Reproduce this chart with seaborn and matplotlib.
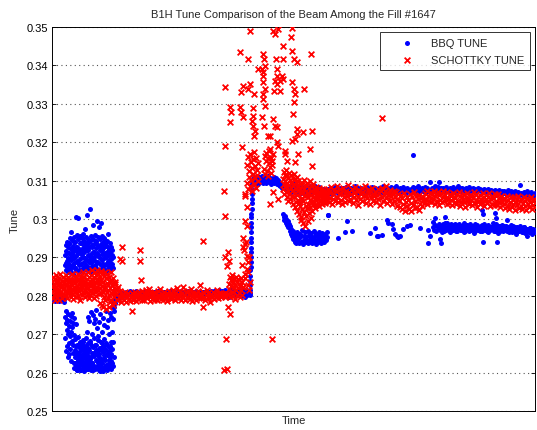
import numpy as np
import pandas as pd
import matplotlib
matplotlib.use("Agg")
import matplotlib.pyplot as plt
from matplotlib.ticker import FixedLocator, FuncFormatter
import seaborn as sns

# Tune readings in units of 1e-4; each phase spans a (start, end) time window
# and its samples are evenly spaced inside that window.

# ---------------- BBQ tune ----------------
bbq_inj_span = (0, 13)
bbq_inj = [2792, 2788, 2795, 2790, 2786, 2797, 2791, 2789, 2794, 2787,
           2799, 2790, 2793, 2788, 2796, 2791, 2785, 2794]

bbq_split_hi_span = (13, 61)
bbq_split_hi = [2905, 2880, 2932, 2868, 2917, 2890, 2941, 2875, 2926, 2898,
                2862, 2938, 2911, 2884, 2950, 2870, 2922, 2966, 2893, 2907,
                2877, 2945, 2915, 2858, 2930, 2899, 2952, 2886, 2919, 2872,
                2940, 3005, 2903, 2866, 2928, 2958, 2889, 3003, 2912, 2947,
                2879, 2921, 2955, 2895, 2864, 2937, 2908, 2883, 2950, 2916,
                2871, 2934, 2962, 2900, 2887, 2944, 2913, 2975, 2869, 2925,
                2896, 2953, 2881, 2919, 3010, 2938, 2874, 2906, 2948, 2890,
                2927, 2861, 2943, 3026, 2910, 2885, 2956, 2898, 2932, 2876,
                2949, 2915, 2985, 2892, 2867, 2936, 2959, 2903, 2880, 2924,
                2942, 2873, 2995, 2911, 2888, 2954, 2929, 2866, 2901, 2978,
                2919, 2947, 2884, 2990, 2935, 2870, 2957, 2909, 2893, 2939,
                2878, 2925, 2951, 2899, 2863, 2933, 2912, 2946, 2882, 2904,
                2930, 2868, 2944, 2915, 2891, 2960, 2876, 2921, 2907, 2938,
                2886, 2913, 2869, 2927, 2897, 2875, 2918, 2884, 2902, 2872]

bbq_split_hi_core_span = (14, 60)
bbq_split_hi_core = [2885, 2912, 2870, 2935, 2898, 2862, 2921, 2880, 2940, 2904,
                     2873, 2928, 2891, 2915, 2866, 2937, 2882, 2908, 2925, 2876,
                     2899, 2933, 2868, 2918, 2887, 2941, 2902, 2872, 2926, 2894,
                     2914, 2878, 2938, 2889, 2906, 2864, 2930, 2896, 2920, 2884,
                     2910, 2871, 2934, 2900, 2881, 2927, 2893, 2916, 2875, 2905]

bbq_split_lo_span = (13, 63)
bbq_split_lo = [2745, 2690, 2728, 2655, 2760, 2712, 2668, 2738, 2641, 2700,
                2752, 2676, 2722, 2648, 2735, 2695, 2661, 2748, 2706, 2630,
                2718, 2682, 2755, 2652, 2730, 2671, 2625, 2741, 2697, 2660,
                2612, 2688, 2645, 2726, 2620, 2672, 2608, 2650, 2693, 2634,
                2615, 2667, 2628, 2642, 2680, 2606, 2656, 2622, 2674, 2638,
                2610, 2661, 2630, 2685, 2617, 2648, 2604, 2670, 2626, 2655,
                2642, 2612, 2690, 2635, 2665, 2620, 2705, 2651, 2609, 2677,
                2745, 2628, 2660, 2735, 2615, 2682, 2758, 2640, 2612, 2700,
                2625, 2668, 2750, 2606, 2645, 2728, 2618, 2690, 2654, 2740,
                2610, 2672, 2632, 2762, 2648, 2615, 2715, 2660, 2627, 2695,
                2640, 2733, 2608, 2664, 2620, 2752, 2680, 2636, 2612, 2707,
                2655, 2625, 2742, 2670, 2605, 2688, 2645, 2725, 2618, 2660,
                2632, 2760, 2612, 2678, 2648, 2718, 2607, 2652, 2738, 2622,
                2666, 2612, 2700, 2640, 2755, 2618, 2680, 2630, 2745, 2662,
                2770, 2705, 2785, 2740, 2778, 2760, 2790, 2772, 2782, 2788]

bbq_split_lo_core_span = (22, 62)
bbq_split_lo_core = [2612, 2640, 2625, 2668, 2608, 2652, 2633, 2675, 2618, 2646,
                     2660, 2606, 2638, 2622, 2680, 2614, 2655, 2629, 2670, 2610,
                     2644, 2663, 2620, 2678, 2636, 2607, 2650, 2624, 2666, 2615,
                     2642, 2673, 2611, 2658, 2630, 2685, 2619, 2648, 2604, 2664,
                     2627, 2676, 2613, 2654, 2639, 2609, 2662, 2621, 2645, 2671,
                     2616, 2657, 2634, 2668, 2610, 2649, 2626, 2679, 2618, 2641]

bbq_flat_span = (63, 198)
bbq_flat = [2796, 2801, 2793, 2799, 2804, 2797, 2802, 2806, 2800, 2808,
            2805, 2810, 2803, 2809, 2807, 2812, 2804, 2808, 2811, 2806,
            2809, 2805, 2812, 2807, 2810, 2803, 2808, 2811, 2806, 2809,
            2804, 2810, 2807, 2812, 2805, 2809, 2806, 2811, 2803, 2808,
            2810, 2806, 2809, 2804, 2812, 2807, 2805, 2810, 2808, 2803,
            2809, 2811, 2806, 2808, 2804, 2810, 2807, 2812, 2805, 2809,
            2806, 2810, 2803, 2808, 2811, 2805, 2809, 2807, 2812, 2804,
            2808, 2805, 2810, 2806, 2809, 2812, 2804, 2807, 2811, 2806,
            2810, 2804, 2808, 2812, 2806, 2809, 2805, 2811, 2807, 2803,
            2807, 2811, 2805, 2809, 2813, 2806, 2810, 2804, 2808, 2812,
            2805, 2809, 2813, 2807, 2802, 2811, 2808, 2815, 2804, 2810,
            2812, 2806, 2800, 2814, 2808, 2803, 2811, 2798, 2809, 2815,
            2801, 2810, 2816, 2805, 2799, 2812, 2807, 2802, 2814, 2806,
            2800, 2811, 2804, 2815, 2798, 2809, 2803, 2812, 2806, 2801]

bbq_ramp_span = (198, 200)
bbq_ramp = [2806, 2815, 2829, 2838, 2852, 2866, 2874, 2889, 2902, 2913,
            2925, 2940, 2951, 2966, 2978, 2990, 3004, 3013, 3027, 3041,
            3052, 3066, 3079, 3090]

bbq_top_span = (200, 233)
bbq_top = [3098, 3104, 3093, 3108, 3101, 3095, 3110, 3099, 3106, 3092,
           3103, 3109, 3096, 3105, 3100, 3112, 3094, 3107, 3102, 3097,
           3108, 3093, 3104, 3099, 3111, 3096, 3102, 3106, 3091, 3100,
           3105, 3097, 3109, 3094, 3103, 3098, 3107, 3092, 3101, 3096,
           3088, 3094, 3085, 3091, 3082, 3089, 3086, 3080, 3087, 3083]

bbq_mid_span = (233, 275)
bbq_mid = [3085, 3078, 3088, 3072, 3081, 3069, 3084, 3075, 3090, 3070,
           3080, 3066, 3086, 3073, 3079, 3068, 3083, 3071, 3077, 3064,
           3082, 3074, 3069, 3087, 3076, 3067, 3080, 3072, 3085, 3070,
           3078, 3065, 3083, 3073, 3068, 3079, 3071, 3076, 3066, 3074]

bbq_hook_span = (231, 276)
bbq_hook = [3012, 3005, 2998, 3008, 2990, 3001, 2985, 2994,
            2978, 2988, 2970, 2982, 2962, 2975, 2955, 2968,
            2948, 2960, 2941, 2953, 2937, 2966, 2945, 2958, 2938, 2950,
            2962, 2940, 2955, 2972, 2943, 2936, 2957, 2948, 2965, 2939,
            2952, 2944, 2968, 2937, 2959, 2947, 2941, 2963, 2954, 2938,
            2949, 2970, 2942, 2956, 2936, 2961, 2946, 2953, 2940, 2967,
            2944, 2958, 2937, 2951, 2963, 2942, 2955, 2939, 2948, 2960,
            2945, 2966, 2952, 3010]

bbq_end_hi_span = (275, 483)
bbq_end_hi = [3072, 3078, 3068, 3081, 3075, 3066, 3079, 3070, 3084, 3073,
              3077, 3069, 3082, 3074, 3067, 3080, 3071, 3076, 3083, 3068,
              3075, 3079, 3066, 3081, 3072, 3077, 3070, 3085, 3073, 3068,
              3080, 3074, 3069, 3082, 3076, 3071, 3079, 3067, 3083, 3075,
              3070, 3078, 3073, 3084, 3068, 3076, 3081, 3072, 3077, 3069,
              3082, 3074, 3079, 3071, 3086, 3075, 3070, 3080, 3073, 3078,
              3069, 3083, 3076, 3072, 3080, 3074, 3085, 3071, 3078, 3075,
              3081, 3070, 3077, 3084, 3073, 3079, 3068, 3082, 3076, 3072,
              3078, 3074, 3083, 3071, 3080, 3076, 3069, 3085, 3073, 3079,
              3075, 3082, 3072, 3078, 3084, 3070, 3080, 3076, 3074, 3096,
              3081, 3073, 3079, 3085, 3071, 3077, 3083, 3096, 3075, 3080,
              3074, 3082, 3078, 3070, 3084, 3076, 3079, 3073, 3081, 3075,
              3077, 3083, 3071, 3079, 3074, 3086, 3076, 3080, 3072, 3082,
              3075, 3079, 3073, 3081, 3077, 3070, 3083, 3076, 3078, 3072,
              3080, 3074, 3077, 3071, 3082, 3075, 3079, 3073, 3076, 3070,
              3078, 3072, 3075, 3069, 3077, 3073, 3070, 3076, 3068, 3074,
              3071, 3075, 3066, 3073, 3069, 3076, 3064, 3072, 3068, 3074,
              3067, 3071, 3063, 3075, 3069, 3066, 3072, 3062, 3070, 3065,
              3073, 3068, 3064, 3071, 3066, 3089, 3069, 3062, 3070, 3065,
              3067, 3072, 3061, 3068, 3064, 3070, 3063, 3066, 3060, 3069]

bbq_end_lo_span = (381, 483)
bbq_end_lo = [2978, 2972, 2985, 2969, 2981, 2975, 2988, 2971, 2979, 2983,
              2974, 2986, 2970, 2980, 2976, 2990, 2973, 2982, 2968, 2977,
              2984, 2971, 2979, 2987, 2974, 2981, 2969, 2985, 2976, 2980,
              2972, 2983, 2977, 2989, 2970, 2978, 2984, 2973, 2980, 2975,
              2986, 2971, 2979, 2974, 2982, 2968, 2977, 2985, 2972, 2980,
              2975, 2983, 2970, 2978, 2987, 2973, 2981, 2976, 2969, 2984,
              2978, 2972, 2980, 2975, 2983, 2970, 2977, 2986, 2973, 2979,
              2974, 2981, 2968, 2977, 2984, 2971, 2979, 2975, 2982, 2969,
              2976, 2980, 2972, 2978, 2966, 2983, 2974, 2970, 2979, 2973,
              2977, 2968, 2975, 2981, 2971, 2974, 2966, 2978, 2972, 2969,
              2975, 2970, 2973, 2967, 2976, 2971, 2964, 2974, 2969, 2972]

bbq_end_lo2_span = (388, 483)
bbq_end_lo2 = [2983, 2967, 2976, 2990, 2971, 2979, 2965, 2986, 2974, 2981,
               2969, 2977, 2988, 2972, 2980, 2966, 2984, 2975, 2970, 2982,
               2978, 2964, 2987, 2973, 2979, 2968, 2985, 2976, 2971, 2983,
               2966, 2980, 2974, 2989, 2970, 2977, 2963, 2982, 2975, 2968,
               2981, 2972, 2978, 2965, 2984, 2971, 2976, 2962, 2979, 2970,
               2974, 2967, 2980, 2964, 2973, 2969, 2977, 2962, 2971, 2966]

# isolated BBQ readings (time, tune)
bbq_scatter_time = [276, 286, 293, 295, 300, 318, 323, 325, 326, 330,
                    335, 336, 340, 341, 343, 345, 346, 348, 351, 355,
                    358, 361, 368, 376, 376, 378, 381, 383, 388, 389,
                    393, 430, 431, 431, 443, 444, 445, 455, 475, 479]
bbq_scatter_tune = [3010, 2951, 2966, 2995, 2969, 2964, 2977, 2956, 2956, 2958,
                    2997, 2990, 2987, 2974, 2961, 2956, 2953, 2956, 2974, 2982,
                    2984, 3167, 2977, 2971, 2937, 2956, 2992, 3003, 2948, 2937,
                    3005, 3023, 3013, 2940, 3016, 3003, 2940, 2997, 2955, 2966]

# ---------------- Schottky tune ----------------
sch_inj_span = (0, 63)
sch_inj = [2812, 2838, 2795, 2826, 2849, 2803, 2831, 2817, 2788, 2844,
           2822, 2808, 2853, 2834, 2797, 2819, 2841, 2806, 2828, 2790,
           2846, 2815, 2832, 2801, 2857, 2824, 2810, 2839, 2793, 2829,
           2818, 2848, 2805, 2836, 2821, 2799, 2843, 2813, 2830, 2855,
           2802, 2827, 2840, 2811, 2794, 2835, 2850, 2816, 2825, 2807,
           2837, 2820, 2845, 2798, 2832, 2812, 2858, 2804, 2829, 2842,
           2814, 2791, 2838, 2823, 2851, 2809, 2833, 2818, 2796, 2847,
           2826, 2806, 2840, 2819, 2856, 2800, 2831, 2844, 2813, 2789,
           2835, 2852, 2817, 2829, 2803, 2846, 2822, 2810, 2839, 2861,
           2808, 2827, 2849, 2815, 2797, 2836, 2824, 2858, 2811, 2832,
           2843, 2805, 2820, 2863, 2830, 2794, 2848, 2816, 2838, 2801,
           2825, 2853, 2812, 2834, 2866, 2807, 2841, 2820, 2795, 2850,
           2828, 2862, 2809, 2837, 2818, 2855, 2799, 2845, 2823, 2868,
           2814, 2839, 2857, 2804, 2831, 2780, 2849, 2821, 2865, 2808,
           2842, 2776, 2826, 2859, 2811, 2835, 2770, 2852, 2817, 2798,
           2863, 2824, 2789, 2846, 2766, 2833, 2810, 2857, 2795, 2828,
           2815, 2772, 2850, 2801, 2838, 2785, 2820, 2862, 2790, 2842,
           2806, 2829, 2775, 2813, 2846, 2798, 2821, 2783, 2835, 2808]

sch_flat_span = (63, 175)
sch_flat = [2832, 2805, 2818, 2790, 2824, 2798, 2812, 2783, 2808, 2795,
            2803, 2788, 2799, 2810, 2785, 2796, 2806, 2791, 2801, 2787,
            2797, 2808, 2789, 2802, 2794, 2811, 2786, 2799, 2805, 2792,
            2809, 2795, 2803, 2788, 2812, 2798, 2790, 2806, 2800, 2815,
            2793, 2804, 2819, 2797, 2787, 2808, 2801, 2794, 2811, 2790,
            2806, 2798, 2789, 2813, 2802, 2796, 2817, 2791, 2804, 2799,
            2788, 2810, 2800, 2795, 2807, 2786, 2803, 2812, 2797, 2792,
            2805, 2793, 2815, 2801, 2789, 2808, 2798, 2820, 2794, 2803,
            2799, 2811, 2790, 2806, 2796, 2824, 2802, 2788, 2809, 2797,
            2812, 2794, 2805, 2791, 2818, 2800, 2787, 2807, 2797, 2803,
            2790, 2808, 2799, 2813, 2795, 2804, 2827, 2793, 2801, 2811,
            2796, 2806, 2789, 2802, 2816, 2794, 2808, 2799, 2785, 2805,
            2800, 2797, 2810, 2792, 2804, 2798, 2814, 2801, 2795, 2807,
            2803, 2796, 2808, 2799, 2805, 2801, 2797, 2806, 2800, 2804]

sch_pre_ramp_span = (176, 191)
sch_pre_ramp = [2805, 2832, 2818, 2848, 2796, 2825, 2840, 2810, 2853, 2800,
                2836, 2822, 2845, 2792, 2829, 2814, 2850, 2803, 2838, 2820,
                2843, 2808, 2831, 2797, 2826, 2847, 2815, 2835, 2801, 2823]

sch_ramp_a_span = (195, 206)
sch_ramp_a = [3095, 3140, 3078, 3162, 3110, 3125, 3085, 3170, 3102, 3148,
              3072, 3133, 3118, 3155, 3090, 3175, 3106, 3138, 3080, 3160,
              3115, 3128, 3098, 3145]

sch_ramp_b_span = (212, 221)
sch_ramp_b = [3130, 3165, 3118, 3150, 3172, 3125, 3158, 3112, 3145, 3178,
              3135, 3160, 3120, 3152, 3140, 3168]

sch_post_span = (231, 275)
sch_post = [3105, 3078, 3122, 3090, 3064, 3115, 3083, 3098, 3070, 3128,
            3086, 3112, 3058, 3095, 3074, 3108, 3047, 3089, 3119, 3066,
            3101, 3052, 3093, 3080, 3114, 3061, 3097, 3072, 3039, 3106,
            3085, 3118, 3056, 3092, 3068, 3030, 3103, 3077, 3044, 3096,
            3063, 3110, 3021, 3087, 3050, 3099, 3012, 3075, 3041, 3091,
            3034, 3082, 3005, 3067, 2998, 3054, 3094, 3026, 3071, 2989,
            3046, 3102, 3018, 3079, 2982, 3060, 3035, 3088, 3008, 3069,
            3028, 3093, 2995, 3057, 3040, 3081, 3015, 3066, 3050, 3098,
            3032, 3074, 3003, 3062, 3045, 3085, 3020, 3058, 3037, 3090,
            3067, 3043, 3079, 3055, 3029, 3071, 3049, 3084, 3036, 3063,
            3052, 3076, 3041, 3068, 3058, 3082, 3034, 3070, 3046, 3061,
            3073, 3048, 3065, 3039, 3078, 3055, 3069, 3044, 3060, 3075,
            3057, 3066, 3042, 3071, 3050, 3063, 3047, 3068, 3053, 3061]

sch_end_span = (275, 483)
sch_end = [3062, 3078, 3045, 3070, 3055, 3083, 3040, 3066, 3052, 3075,
           3048, 3072, 3058, 3086, 3043, 3064, 3077, 3050, 3069, 3038,
           3081, 3056, 3067, 3044, 3074, 3060, 3088, 3047, 3071, 3053,
           3065, 3079, 3041, 3068, 3057, 3084, 3049, 3073, 3061, 3036,
           3076, 3052, 3066, 3080, 3046, 3070, 3059, 3087, 3042, 3063,
           3054, 3075, 3068, 3039, 3072, 3058, 3082, 3048, 3066, 3060,
           3071, 3044, 3063, 3078, 3053, 3069, 3037, 3074, 3057, 3081,
           3047, 3066, 3073, 3055, 3085, 3042, 3062, 3070, 3050, 3076,
           3060, 3039, 3067, 3074, 3046, 3058, 3071, 3035, 3064, 3052,
           3048, 3030, 3062, 3025, 3055, 3038, 3068, 3022, 3044, 3058,
           3033, 3050, 3027, 3065, 3041, 3021, 3056, 3036, 3070, 3029,
           3046, 3060, 3032, 3052, 3024, 3063, 3040, 3055, 3035, 3049,
           3058, 3042, 3067, 3050, 3072, 3038, 3061, 3047, 3069, 3055,
           3044, 3064, 3052, 3074, 3040, 3059, 3066, 3048, 3071, 3036,
           3062, 3050, 3068, 3043, 3057, 3073, 3046, 3063, 3054, 3039,
           3070, 3053, 3041, 3065, 3049, 3060, 3037, 3068, 3056, 3045,
           3055, 3040, 3066, 3048, 3070, 3034, 3061, 3045, 3058, 3051,
           3043, 3064, 3032, 3057, 3068, 3046, 3053, 3038, 3062, 3049,
           3060, 3036, 3054, 3071, 3042, 3050, 3065, 3031, 3058, 3047,
           3039, 3062, 3051, 3044, 3067, 3035, 3056, 3048, 3063, 3041,
           3057, 3046, 3069, 3033, 3052, 3061, 3040, 3055, 3037, 3064,
           3048, 3059, 3036, 3066, 3043, 3054, 3030, 3060, 3045, 3051,
           3040, 3055, 3028, 3047, 3060, 3034, 3050, 3025, 3044, 3058,
           3031, 3049, 3038, 3056, 3023, 3045, 3053, 3036, 3061, 3029,
           3046, 3033, 3052, 3027, 3041, 3057, 3035, 3048, 3024, 3054,
           3039, 3050, 3030, 3044, 3058, 3026, 3047, 3037, 3053, 3032]

# isolated Schottky readings (time, tune)
sch_scatter_time = [70, 68, 70, 88, 88, 89, 80, 151, 151, 172,
                    173, 174, 175, 172, 178, 176, 173, 176, 175, 177,
                    193, 191, 195, 196, 193, 195, 196, 193, 195, 193,
                    195, 220, 191, 194, 192, 197, 190, 196, 193, 198,
                    191, 197, 193, 221, 226, 218,
                    198, 221, 223, 226, 240, 239, 231, 188, 196, 211,
                    212, 213, 211, 210, 224, 225, 225, 231, 240, 242,
                    245, 259, 230, 231, 228, 223, 225, 211, 211, 213,
                    173, 191, 198, 196, 206, 189, 202, 211, 211, 213,
                    222, 228, 240, 242, 243, 242, 252, 178, 179, 178,
                    188, 189, 191, 201, 201, 200, 201, 203, 202, 210,
                    212, 216, 221, 223, 225, 241, 245, 245, 243, 251,
                    260, 173, 190, 218, 225, 226, 240, 246, 258, 233,
                    233, 235, 243, 260, 218, 330]
sch_scatter_tune = [2927, 2896, 2890, 2919, 2891, 2841, 2760, 2943, 2771, 3073,
                    3008, 2688, 2609, 2607, 2753, 2771, 2901, 2914, 2878, 2890,
                    2935, 2927, 2904, 2888, 2857, 2870, 2828, 3065, 3031, 2995,
                    2982, 2688, 2950, 2940, 2918, 2900, 2880, 2862, 2846, 2835,
                    2822, 2815, 3060, 3070, 3052, 3040,
                    3490, 3490, 3482, 3495, 3497, 3474, 3451, 3435, 3417, 3430,
                    3417, 3398, 3383, 3391, 3417, 3391, 3372, 3417, 3437, 3417,
                    3409, 3430, 3372, 3365, 3359, 3359, 3352, 3372, 3357, 3339,
                    3344, 3346, 3352, 3339, 3391, 3331, 3326, 3326, 3313, 3294,
                    3333, 3333, 3357, 3339, 3326, 3305, 3339, 3292, 3279, 3253,
                    3292, 3279, 3266, 3289, 3268, 3255, 3242, 3229, 3216, 3266,
                    3242, 3216, 3260, 3242, 3240, 3273, 3234, 3221, 3208, 3227,
                    3229, 3190, 3188, 3216, 3201, 3190, 3203, 3169, 3182, 3177,
                    3169, 3151, 3148, 3138, 3182, 3263]


def spread(span, values, label):
    t0, t1 = span
    return pd.DataFrame({"time": np.linspace(t0, t1, len(values)),
                         "tune": np.asarray(values, float) / 1e4,
                         "series": label})


def points(times, values, label):
    return pd.DataFrame({"time": np.asarray(times, float),
                         "tune": np.asarray(values, float) / 1e4,
                         "series": label})


bbq = pd.concat([
    spread(bbq_inj_span, bbq_inj, "BBQ TUNE"),
    spread(bbq_split_hi_span, bbq_split_hi, "BBQ TUNE"),
    spread(bbq_split_hi_core_span, bbq_split_hi_core, "BBQ TUNE"),
    spread(bbq_split_lo_span, bbq_split_lo, "BBQ TUNE"),
    spread(bbq_split_lo_core_span, bbq_split_lo_core, "BBQ TUNE"),
    spread(bbq_flat_span, bbq_flat, "BBQ TUNE"),
    spread(bbq_ramp_span, bbq_ramp, "BBQ TUNE"),
    spread(bbq_top_span, bbq_top, "BBQ TUNE"),
    spread(bbq_mid_span, bbq_mid, "BBQ TUNE"),
    spread(bbq_hook_span, bbq_hook, "BBQ TUNE"),
    spread(bbq_end_hi_span, bbq_end_hi, "BBQ TUNE"),
    spread(bbq_end_lo_span, bbq_end_lo, "BBQ TUNE"),
    spread(bbq_end_lo2_span, bbq_end_lo2, "BBQ TUNE"),
    points(bbq_scatter_time, bbq_scatter_tune, "BBQ TUNE"),
], ignore_index=True)

sch = pd.concat([
    spread(sch_inj_span, sch_inj, "SCHOTTKY TUNE"),
    spread(sch_flat_span, sch_flat, "SCHOTTKY TUNE"),
    spread(sch_pre_ramp_span, sch_pre_ramp, "SCHOTTKY TUNE"),
    spread(sch_ramp_a_span, sch_ramp_a, "SCHOTTKY TUNE"),
    spread(sch_ramp_b_span, sch_ramp_b, "SCHOTTKY TUNE"),
    spread(sch_post_span, sch_post, "SCHOTTKY TUNE"),
    spread(sch_end_span, sch_end, "SCHOTTKY TUNE"),
    points(sch_scatter_time, sch_scatter_tune, "SCHOTTKY TUNE"),
], ignore_index=True)

y_ticks = [0.25, 0.26, 0.27, 0.28, 0.29, 0.30, 0.31, 0.32, 0.33, 0.34, 0.35]

sns.set_style("white")
plt.rcParams["font.family"] = ["Liberation Sans", "DejaVu Sans"]

fig = plt.figure(figsize=(5.37, 4.31), dpi=100)
ax = fig.add_axes([52 / 537, 1 - 412 / 431, (535 - 52) / 537, (412 - 28) / 431])

sns.scatterplot(data=bbq, x="time", y="tune", ax=ax, color="#0000ff",
                marker="o", s=13, linewidth=0, label="BBQ TUNE", zorder=3)
sns.scatterplot(data=sch, x="time", y="tune", ax=ax, color="#ff0000",
                marker="x", s=17, linewidth=1.3, label="SCHOTTKY TUNE", zorder=4)

ax.set_xlim(0, 483)
ax.set_ylim(0.25, 0.35)
ax.set_xticks([])
ax.yaxis.set_major_locator(FixedLocator(y_ticks))
ax.yaxis.set_major_formatter(FuncFormatter(lambda v, p: f"{v:g}"))
ax.tick_params(axis="y", direction="in", length=3, width=0.6,
               right=True, left=True, labelsize=8, pad=3, colors="black")
ax.grid(axis="y", linestyle=(0, (1, 3)), linewidth=0.8, color="#555555")
ax.grid(axis="x", visible=False)
ax.set_axisbelow(True)
for sp in ax.spines.values():
    sp.set_color("black")
    sp.set_linewidth(0.7)

ax.set_title("B1H Tune Comparison of the Beam Among the Fill #1647",
             fontsize=8, pad=7)
ax.set_xlabel("Time", fontsize=8, labelpad=3)
ax.set_ylabel("Tune", fontsize=8, labelpad=5)

leg = ax.legend(loc="upper right", fontsize=8, frameon=True, fancybox=False,
                edgecolor="black", borderaxespad=0.45, handlelength=3.8,
                handletextpad=0.3, borderpad=0.5, labelspacing=0.65,
                markerscale=1.0)
leg.get_frame().set_linewidth(0.7)

fig.savefig("out.png", dpi=100, facecolor="white")
